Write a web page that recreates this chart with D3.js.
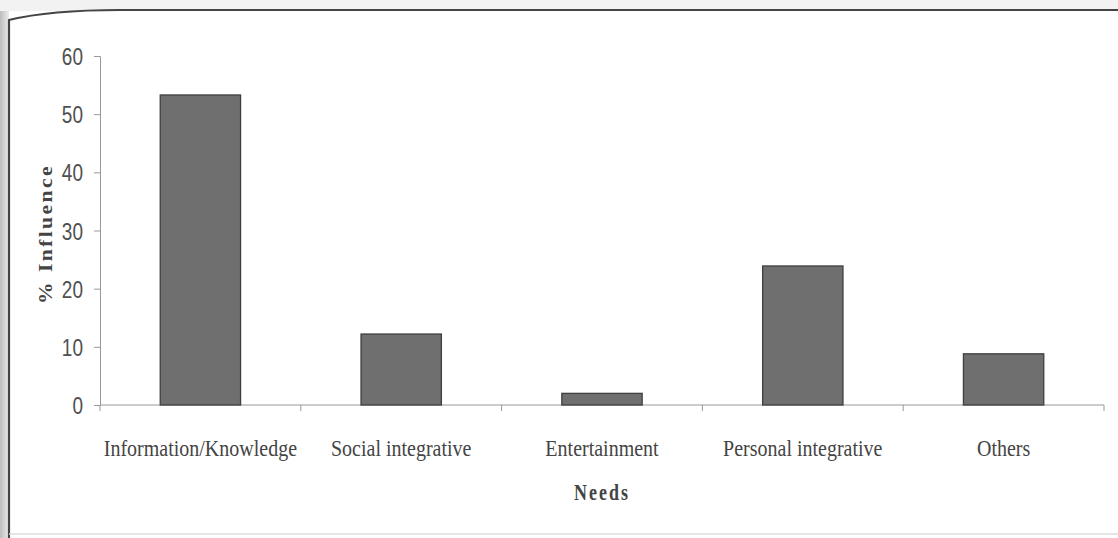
<!DOCTYPE html>
<html><head><meta charset="utf-8">
<script src="https://cdn.jsdelivr.net/npm/d3@7"></script>
<style>body{margin:0;background:#fff}svg{display:block}</style>
</head><body>
<script>
const categories = ["Information/Knowledge","Social integrative","Entertainment","Personal integrative","Others"];
const values = [53.3, 12.2, 2.0, 23.9, 8.8];
const yTicks = [0,10,20,30,40,50,60];
const yLabel = "% Influence";
const xLabel = "Needs";

const W=1118,H=538;
const svg=d3.select("body").append("svg").attr("width",W).attr("height",H);
const defs=svg.append("defs");
const g1=defs.append("linearGradient").attr("id","lg").attr("x1","0").attr("x2","1");
g1.append("stop").attr("offset","0").attr("stop-color","#bdbdbd");
g1.append("stop").attr("offset","1").attr("stop-color","#ececec");
svg.append("rect").attr("x",0).attr("y",0).attr("width",W).attr("height",H).attr("fill","#fff");
svg.append("rect").attr("x",0).attr("y",0).attr("width",9).attr("height",H).attr("fill","url(#lg)");
svg.append("rect").attr("x",0).attr("y",0).attr("width",W).attr("height",11).attr("fill","#f2f2f2");
// frame
svg.append("path").attr("d","M9,538 L9,20 Q50,10 120,10 L1118,10").attr("fill","none").attr("stroke","#444").attr("stroke-width",2.2);
svg.append("line").attr("x1",9).attr("x2",1118).attr("y1",534).attr("y2",534).attr("stroke","#ddd").attr("stroke-width",1.5);

const m={l:100,r:1104,t:56,b:405};
const x=d3.scaleBand().domain(categories).range([m.l,m.r]).paddingInner(0.6).paddingOuter(0.3);
const y=d3.scaleLinear().domain([0,60]).range([m.b,m.t]);

const ya=svg.append("g").attr("transform",`translate(${m.l},0)`).call(d3.axisLeft(y).tickValues(yTicks).tickSize(6).tickPadding(11));
ya.select(".domain").attr("stroke","#999");
ya.selectAll(".tick line").attr("stroke","#999");
ya.selectAll("text").attr("font-family","Liberation Sans, Arial, sans-serif").attr("font-size",19).attr("fill","#505050")
  .attr("dy","0.36em").attr("transform","scale(1,1.25)");

const xa=svg.append("g").attr("transform",`translate(0,${m.b})`);
xa.append("line").attr("x1",m.l).attr("x2",m.r).attr("stroke","#999");
const step=(m.r-m.l)/categories.length;
xa.selectAll("line.t").data(d3.range(categories.length+1)).join("line").attr("class","t")
  .attr("x1",i=>m.l+i*step).attr("x2",i=>m.l+i*step).attr("y1",0).attr("y2",6).attr("stroke","#999");

svg.selectAll("rect.bar").data(values).join("rect").attr("class","bar")
  .attr("x",(d,i)=>x(categories[i])).attr("width",x.bandwidth())
  .attr("y",d=>y(d)).attr("height",d=>y(0)-y(d))
  .attr("fill","#6f6f6f").attr("stroke","#3f3f3f").attr("stroke-width",1.3);

svg.selectAll("text.cat").data(categories).join("text").attr("class","cat")
  .attr("transform",d=>`translate(${x(d)+x.bandwidth()/2},456) scale(1,1.15)`).attr("text-anchor","middle")
  .attr("font-family","Liberation Serif, Times New Roman, serif").attr("font-size",20).attr("fill","#444").text(d=>d);

svg.append("text").attr("transform",`translate(${(m.l+m.r)/2},500) scale(1,1.25)`).attr("text-anchor","middle")
  .attr("font-family","Liberation Serif, Times New Roman, serif").attr("font-weight","bold").attr("font-size",18)
  .attr("letter-spacing",2).attr("fill","#444").text(xLabel);

svg.append("text").attr("transform",`translate(52,${234}) rotate(-90) scale(1.2,1)`).attr("text-anchor","middle")
  .attr("font-family","Liberation Serif, Times New Roman, serif").attr("font-weight","bold").attr("font-size",18)
  .attr("letter-spacing",2).attr("fill","#444").text(yLabel);
</script>
</body></html>
